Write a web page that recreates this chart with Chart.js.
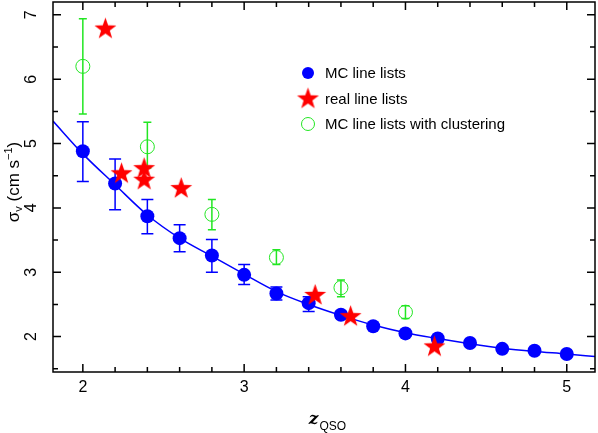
<!DOCTYPE html>
<html>
<head>
<meta charset="utf-8">
<script src="https://cdn.jsdelivr.net/npm/chart.js@4.4.1/dist/chart.umd.min.js"></script>
<style>
html, body { margin: 0; padding: 0; background: #fff; }
</style>
</head>
<body>
<canvas id="chart" width="598" height="433"></canvas>
<script>
// MC line lists (blue filled circles, with error bars)
var mcZ     = [2.0, 2.2, 2.4, 2.6, 2.8, 3.0, 3.2, 3.4, 3.6, 3.8, 4.0, 4.2, 4.4, 4.6, 4.8, 5.0];
var mcSigma = [4.88, 4.38, 3.87, 3.53, 3.26, 2.96, 2.67, 2.52, 2.34, 2.16, 2.05, 1.97, 1.90, 1.81, 1.78, 1.73];
var mcHi    = [5.34, 4.76, 4.13, 3.74, 3.51, 3.12, 2.77, 2.62, 2.39, null, null, 2.00, null, null, null, null];
var mcLo    = [4.41, 3.97, 3.60, 3.32, 3.00, 2.81, 2.57, 2.39, 2.29, null, null, 1.92, null, null, null, null];

// fitted curve through the MC points
var fitZ     = [1.815, 2.0, 2.2, 2.4, 2.6, 2.8, 3.0, 3.2, 3.4, 3.6, 3.8, 4.0, 4.2, 4.4, 4.6, 4.8, 5.0, 5.175];
var fitSigma = [5.35, 4.84, 4.36, 3.89, 3.53, 3.25, 2.97, 2.70, 2.50, 2.33, 2.18, 2.06, 1.97, 1.89, 1.82, 1.77, 1.73, 1.69];

// real line lists (red stars)
var realZ     = [2.14, 2.24, 2.38, 2.38, 2.61, 3.44, 3.66, 4.18];
var realSigma = [6.78, 4.53, 4.61, 4.43, 4.30, 2.64, 2.31, 1.84];

// MC line lists with clustering (green open circles)
var clZ     = [2.0, 2.4, 2.8, 3.2, 3.6, 4.0];
var clSigma = [6.20, 4.95, 3.90, 3.23, 2.76, 2.38];
var clHi    = [6.94, 5.33, 4.13, 3.35, 2.88, 2.48];
var clLo    = [5.46, 4.62, 3.66, 3.12, 2.62, 2.28];

// axes
var xMajor = [2, 3, 4, 5];
var xMinor = [2.2, 2.4, 2.6, 2.8, 3.2, 3.4, 3.6, 3.8, 4.2, 4.4, 4.6, 4.8];
var yMajor = [2, 3, 4, 5, 6, 7];
var yMinor = [1.5, 2.5, 3.5, 4.5, 5.5, 6.5];

var legendLabels = ['MC line lists', 'real line lists', 'MC line lists with clustering'];

var BLUE = '#0000ff';
var RED = '#ff0000';
var GREEN = '#22e622';
var FONT = '"Liberation Sans", "DejaVu Sans", Arial, sans-serif';

function toXY(xs, ys) {
    var out = [];
    for (let i = 0; i < xs.length; i++) out.push({x: xs[i], y: ys[i]});
    return out;
}

// filled five point star used as point style
function makeStar(r) {
    var c = document.createElement('canvas');
    c.width = c.height = Math.ceil(r * 2 + 2);
    var g = c.getContext('2d');
    var cx = c.width / 2, cy = c.height / 2;
    g.beginPath();
    for (let i = 0; i < 10; i++) {
        let rad = (i % 2 == 0) ? r : r * 0.4;
        let a = -Math.PI / 2 + i * Math.PI / 5;
        let px = cx + rad * Math.cos(a), py = cy + rad * Math.sin(a);
        if (i == 0) g.moveTo(px, py); else g.lineTo(px, py);
    }
    g.closePath();
    g.fillStyle = RED;
    g.fill();
    return c;
}
var starImg = makeStar(11.5);

function drawErrors(ctx, chart, xs, lo, hi, color, cap) {
    var sx = chart.scales.x, sy = chart.scales.y;
    ctx.strokeStyle = color;
    ctx.lineWidth = 1.5;
    for (let i = 0; i < xs.length; i++) {
        if (lo[i] == null) continue;
        let X = sx.getPixelForValue(xs[i]);
        let Y1 = sy.getPixelForValue(lo[i]);
        let Y2 = sy.getPixelForValue(hi[i]);
        ctx.beginPath();
        ctx.moveTo(X, Y1); ctx.lineTo(X, Y2);
        ctx.moveTo(X - cap, Y1); ctx.lineTo(X + cap, Y1);
        ctx.moveTo(X - cap, Y2); ctx.lineTo(X + cap, Y2);
        ctx.stroke();
    }
}

var decorPlugin = {
    id: 'decor',
    beforeDatasetsDraw: function(chart) {
        var ctx = chart.ctx;
        ctx.save();
        drawErrors(ctx, chart, mcZ, mcLo, mcHi, BLUE, 6);
        drawErrors(ctx, chart, clZ, clLo, clHi, GREEN, 4);
        ctx.restore();
    },
    afterDraw: function(chart) {
        var ctx = chart.ctx;
        var a = chart.chartArea;
        var sx = chart.scales.x, sy = chart.scales.y;
        ctx.save();

        // frame
        ctx.strokeStyle = '#000';
        ctx.lineWidth = 1.5;
        ctx.strokeRect(a.left, a.top, a.right - a.left, a.bottom - a.top);

        // ticks, pointing inward on all four sides
        ctx.beginPath();
        function xt(v, len) {
            var X = sx.getPixelForValue(v);
            ctx.moveTo(X, a.bottom); ctx.lineTo(X, a.bottom - len);
            ctx.moveTo(X, a.top); ctx.lineTo(X, a.top + len);
        }
        function yt(v, len) {
            var Y = sy.getPixelForValue(v);
            ctx.moveTo(a.left, Y); ctx.lineTo(a.left + len, Y);
            ctx.moveTo(a.right, Y); ctx.lineTo(a.right - len, Y);
        }
        xMajor.forEach(v => xt(v, 8));
        xMinor.forEach(v => xt(v, 5));
        yMajor.forEach(v => yt(v, 8));
        yMinor.forEach(v => yt(v, 5));
        ctx.stroke();

        // tick labels
        ctx.fillStyle = '#000';
        ctx.font = '16px ' + FONT;
        ctx.textAlign = 'center';
        ctx.textBaseline = 'middle';
        xMajor.forEach(function(v) {
            ctx.fillText(String(v), sx.getPixelForValue(v), a.bottom + 16);
        });
        yMajor.forEach(function(v) {
            ctx.save();
            ctx.translate(a.left - 21, sy.getPixelForValue(v));
            ctx.rotate(-Math.PI / 2);
            ctx.fillText(String(v), 0, 0);
            ctx.restore();
        });

        // y title: sigma_v (cm s^-1)
        ctx.save();
        ctx.translate(19, (a.top + a.bottom) / 2 - 5);
        ctx.rotate(-Math.PI / 2);
        ctx.textAlign = 'left';
        ctx.textBaseline = 'alphabetic';
        var big = '17px ' + FONT, small = '11px ' + FONT;
        var parts = [
            ['σ', big, 0], ['v', small, 3], [' (cm s', big, 0], ['−1', small, -7], [')', big, 0]
        ];
        var total = 0;
        parts.forEach(function(p) { ctx.font = p[1]; total += ctx.measureText(p[0]).width; });
        var cx = -total / 2;
        parts.forEach(function(p) {
            ctx.font = p[1];
            ctx.fillText(p[0], cx, p[2]);
            cx += ctx.measureText(p[0]).width;
        });
        ctx.restore();

        // x title: z_QSO
        ctx.textAlign = 'left';
        ctx.textBaseline = 'alphabetic';
        var xc = (a.left + a.right) / 2 + 3;
        ctx.font = 'bold italic 17px "DejaVu Serif", serif';
        var wz = ctx.measureText('z').width;
        ctx.font = '12px ' + FONT;
        var wq = ctx.measureText('QSO').width;
        var x0 = xc - (wz + wq) / 2;
        ctx.font = 'bold italic 17px "DejaVu Serif", serif';
        ctx.fillText('z', x0, 424);
        ctx.font = '12px ' + FONT;
        ctx.fillText('QSO', x0 + wz + 1, 430);

        // legend
        var lx = 308, ly = [73, 99, 124];
        ctx.fillStyle = BLUE;
        ctx.beginPath(); ctx.arc(lx, ly[0], 6, 0, 2 * Math.PI); ctx.fill();
        ctx.drawImage(starImg, lx - starImg.width / 2, ly[1] - starImg.height / 2);
        ctx.strokeStyle = GREEN;
        ctx.lineWidth = 1;
        ctx.beginPath(); ctx.arc(lx, ly[2], 6.5, 0, 2 * Math.PI); ctx.stroke();
        ctx.fillStyle = '#000';
        ctx.font = '15px ' + FONT;
        ctx.textBaseline = 'middle';
        for (let i = 0; i < legendLabels.length; i++) ctx.fillText(legendLabels[i], 325, ly[i] + 1);

        ctx.restore();
    }
};

new Chart(document.getElementById('chart'), {
    type: 'scatter',
    data: {
        datasets: [
            {
                label: 'fit',
                data: toXY(fitZ, fitSigma),
                showLine: true,
                borderColor: BLUE,
                borderWidth: 1.5,
                pointRadius: 0,
                cubicInterpolationMode: 'monotone',
                order: 4
            },
            {
                label: legendLabels[0],
                data: toXY(mcZ, mcSigma),
                pointRadius: 7,
                pointBackgroundColor: BLUE,
                pointBorderWidth: 0,
                order: 3
            },
            {
                label: legendLabels[2],
                data: toXY(clZ, clSigma),
                pointRadius: 7,
                pointBackgroundColor: 'rgba(0,0,0,0)',
                pointBorderColor: GREEN,
                pointBorderWidth: 1,
                order: 2
            },
            {
                label: legendLabels[1],
                data: toXY(realZ, realSigma),
                pointStyle: starImg,
                order: 1
            }
        ]
    },
    options: {
        responsive: false,
        animation: false,
        layout: { autoPadding: false, padding: { left: 53, right: 3, top: 2, bottom: 61 } },
        plugins: { legend: { display: false }, tooltip: { enabled: false } },
        scales: {
            x: { type: 'linear', min: 1.815, max: 5.175, display: false },
            y: { type: 'linear', min: 1.45, max: 7.2, display: false }
        }
    },
    plugins: [decorPlugin]
});
</script>
</body>
</html>
